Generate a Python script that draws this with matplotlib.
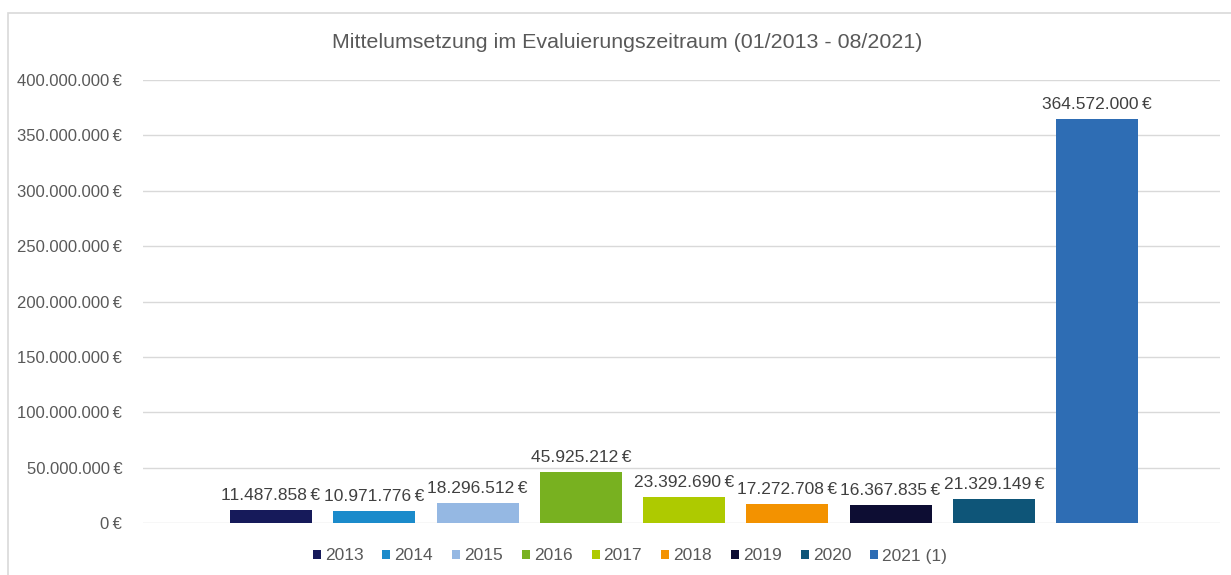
import matplotlib
matplotlib.use("Agg")
import matplotlib.pyplot as plt
from matplotlib.patches import Rectangle, Patch
from matplotlib.ticker import FuncFormatter

years = ["2013", "2014", "2015", "2016", "2017", "2018", "2019", "2020", "2021 (1)"]
values = [11487858, 10971776, 18296512, 45925212, 23392690, 17272708, 16367835, 21329149, 364572000]
colors = ["#161A5A", "#1B8BCB", "#95B8E3", "#78B120", "#AECA00", "#F39200", "#0D0D33", "#0E5578", "#2E6DB4"]
yticks = [0, 50e6, 100e6, 150e6, 200e6, 250e6, 300e6, 350e6, 400e6]
title = "Mittelumsetzung im Evaluierungszeitraum (01/2013 - 08/2021)"

plt.rcParams['font.family'] = ['Liberation Sans', 'DejaVu Sans']

def fmt(v):
    return f"{int(round(v)):,}".replace(",", ".") + "\u2009€"

W, H = 1231, 575
fig = plt.figure(figsize=(W / 100, H / 100), dpi=100)
ax = fig.add_axes([143 / W, 1 - 523 / H, (1220 - 143) / W, (523 - 80) / H])

x = list(range(len(years)))
ax.bar(x, values, width=0.795, color=colors, zorder=3)
for xi, v in zip(x, values):
    ax.annotate(fmt(v), (xi, v), xytext=(0, 5), textcoords="offset points",
                ha="center", va="bottom", fontsize=12.5, color="#404040")

ax.set_ylim(0, 400e6)
ax.set_xlim(-1.24, 9.19)
ax.set_yticks(yticks)
ax.yaxis.set_major_formatter(FuncFormatter(lambda v, p: fmt(v)))
ax.tick_params(axis="y", length=0, pad=15, labelsize=12, labelcolor="#595959")
ax.tick_params(axis="x", bottom=False, labelbottom=False)
ax.grid(axis="y", color="#D9D9D9", linewidth=1, zorder=0)
for s in ax.spines.values():
    s.set_visible(False)

fig.text(627 / W, 1 - 43 / H, title, ha="center", va="center", fontsize=15.4, color="#595959")

handles = [Patch(facecolor=c, label=y) for c, y in zip(colors, years)]
leg = fig.legend(handles=handles, loc="center", bbox_to_anchor=(630 / W, 1 - 556 / H),
                 ncol=len(years), frameon=False, fontsize=12.5, handlelength=0.46, handleheight=0.46,
                 handletextpad=0.23, columnspacing=1.1)
for t in leg.get_texts():
    t.set_color("#595959")

fig.patches.append(Rectangle((8 / W, -0.1), 1.2, 1 - 13 / H + 0.1, transform=fig.transFigure,
                             fill=False, edgecolor="#D9D9D9", linewidth=1.2))

fig.savefig("out.png", dpi=100)
